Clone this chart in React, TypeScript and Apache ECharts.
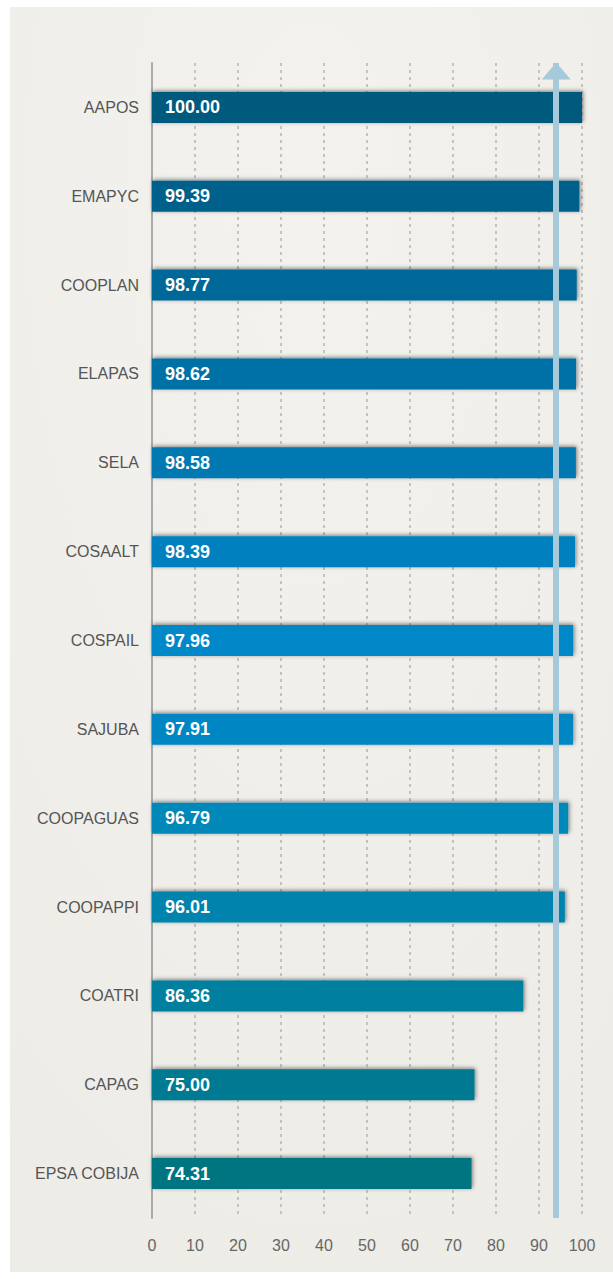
import React, { useEffect, useRef } from "react";
import * as echarts from "echarts";

const categories = [
  "AAPOS", "EMAPYC", "COOPLAN", "ELAPAS", "SELA", "COSAALT", "COSPAIL",
  "SAJUBA", "COOPAGUAS", "COOPAPPI", "COATRI", "CAPAG", "EPSA COBIJA",
];
const values = [100.0, 99.39, 98.77, 98.62, 98.58, 98.39, 97.96, 97.91, 96.79, 96.01, 86.36, 75.0, 74.31];
const targetValue = 94;
const barColors = [
  "#005a7e", "#00608c", "#006898", "#0071a6", "#0078b2", "#0080bf", "#0088c8",
  "#0086c2", "#0088b8", "#0083ac", "#007f9e", "#007a92", "#007582",
];

const FONT = "'Liberation Sans', Arial, sans-serif";

export default function App() {
  const ref = useRef<HTMLDivElement>(null);
  useEffect(() => {
    if (!ref.current) return;
    const chart = echarts.init(ref.current, undefined, { renderer: "svg" });
    chart.setOption({
      animation: false,
      backgroundColor: "#ffffff",
      graphic: [
        {
          type: "rect",
          z: -10,
          shape: { x: 10, y: 7, width: 603, height: 1265 },
          style: {
            fill: new echarts.graphic.RadialGradient(0.5, 0.15, 0.9, [
              { offset: 0, color: "#f3f2ee" },
              { offset: 1, color: "#edece7" },
            ]),
          },
          silent: true,
        },
      ],
      grid: { left: 152, right: 31, top: 63, bottom: 61, containLabel: false },
      xAxis: {
        type: "value",
        min: 0,
        max: 100,
        interval: 10,
        axisLine: { show: false },
        axisTick: { show: false },
        axisLabel: { color: "#666666", fontSize: 16, fontFamily: FONT, margin: 19 },
        splitLine: {
          show: true,
          lineStyle: { color: "#b4b4b4", width: 1.5, type: [3, 4] },
        },
      },
      yAxis: {
        type: "category",
        data: categories,
        inverse: true,
        axisLine: { show: true, lineStyle: { color: "#aaaaaa", width: 2 } },
        axisTick: { show: false },
        axisLabel: { color: "#555555", fontSize: 16, fontFamily: FONT, margin: 13 },
        splitLine: { show: false },
      },
      series: [
        {
          type: "line",
          data: [],
          z: 1,
          markLine: {
            silent: true,
            symbol: ["triangle", "none"],
            symbolSize: [29, 17],
            symbolOffset: [[0, 8], 0],
            label: { show: false },
            lineStyle: { color: "#a7cadb", width: 6, type: "solid", opacity: 1 },
            emphasis: { disabled: true },
            data: [{ xAxis: targetValue }],
          },
        },
        {
          type: "bar",
          z: 3,
          barWidth: 31,
          data: values.map((v, i) => ({
            value: v,
            itemStyle: {
              color: barColors[i],
              shadowColor: "rgba(0,0,0,0.5)",
              shadowBlur: 4,
              shadowOffsetY: -1,
              shadowOffsetX: 1,
            },
          })),
          label: {
            show: true,
            position: "insideLeft",
            distance: 13,
            color: "#ffffff",
            fontSize: 18,
            fontWeight: "bold",
            fontFamily: FONT,
            formatter: (p: any) => Number(p.value).toFixed(2),
          },
        },
      ],
    });
    return () => chart.dispose();
  }, []);
  return (
    <div
      ref={ref}
      style={{ position: "absolute", left: 0, top: 0, width: 613, height: 1279 }}
    />
  );
}
